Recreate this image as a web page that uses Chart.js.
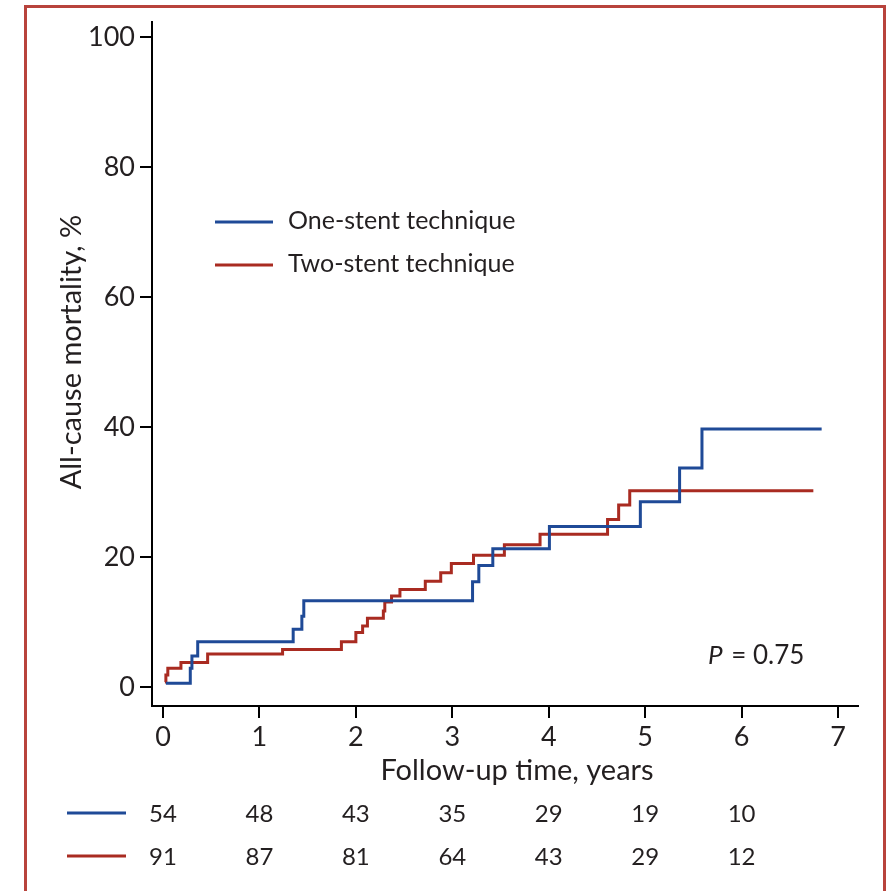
<!DOCTYPE html>
<html>
<head>
<meta charset="utf-8">
<script src="https://cdn.jsdelivr.net/npm/chart.js@4.4.1/dist/chart.umd.min.js"></script>
<style>
  body { margin: 0; background: #fff; }
  #wrap { width: 889px; height: 891px; }
</style>
</head>
<body>
<div id="wrap"><canvas id="chart_mortality" width="889" height="891"></canvas></div>
<script>
//データ
const seriesLabels = ['One-stent technique', 'Two-stent technique'];
const oneStentTime = [0.03, 0.283, 0.30, 0.36, 1.35, 1.44, 1.46, 3.21, 3.275, 3.42, 4.007, 4.95, 5.357, 5.589, 6.83];
const oneStentRate = [0.6, 2.9, 4.8, 7.0, 8.9, 10.9, 13.3, 16.2, 18.7, 21.3, 24.7, 28.5, 33.7, 39.7, 39.7];
const twoStentTime = [0.02, 0.03, 0.05, 0.186, 0.463, 1.24, 1.85, 2.0, 2.07, 2.12, 2.285, 2.30, 2.37, 2.457, 2.72, 2.88, 2.99, 3.22, 3.54, 3.91, 4.61, 4.725, 4.84, 6.744];
const twoStentRate = [0.8, 1.85, 2.9, 3.8, 5.1, 5.8, 7.0, 8.4, 9.4, 10.6, 11.7, 13.1, 14.0, 15.0, 16.3, 17.6, 19.0, 20.3, 21.9, 23.5, 25.8, 28.0, 30.2, 30.2];
const xTicks = [0, 1, 2, 3, 4, 5, 6, 7];
const yTicks = [0, 20, 40, 60, 80, 100];
const atRiskOne = [54, 48, 43, 35, 29, 19, 10];
const atRiskTwo = [91, 87, 81, 64, 43, 29, 12];
const pText = '= 0.75';

const blue = '#1f4a97';
const red = '#a92b21';
const ink = '#231f20';
const fontName = 'Lato, "Open Sans", sans-serif';

function toPoints(t, v) {
    return t.map(function (x, i) { return { x: x, y: v[i] }; });
}

//図の外枠・凡例・リスク表
const extras = {
    id: 'extras',
    afterDraw(chart) {
        const ctx = chart.ctx;
        const xs = chart.scales.x;
        ctx.save();

        //外枠
        ctx.strokeStyle = '#b8433c';
        ctx.lineWidth = 3;
        ctx.beginPath();
        ctx.moveTo(25.5, 891);
        ctx.lineTo(25.5, 6.5);
        ctx.lineTo(884.5, 6.5);
        ctx.lineTo(884.5, 891);
        ctx.stroke();

        ctx.fillStyle = ink;
        ctx.textBaseline = 'middle';

        //凡例
        const legendY = [222, 265];
        [blue, red].forEach(function (c, i) {
            ctx.strokeStyle = c;
            ctx.lineWidth = 3;
            ctx.beginPath();
            ctx.moveTo(215, legendY[i]);
            ctx.lineTo(273, legendY[i]);
            ctx.stroke();
            ctx.font = '25px ' + fontName;
            ctx.textAlign = 'left';
            ctx.fillText(seriesLabels[i], 288, legendY[i] - 1);
        });

        //P値
        ctx.font = 'italic 26px ' + fontName;
        ctx.textAlign = 'left';
        ctx.fillText('P', 708, 656);
        const pw = ctx.measureText('P').width;
        ctx.font = '26px ' + fontName;
        ctx.fillText(' ' + pText, 710 + pw, 656);

        //軸タイトル
        ctx.font = '29px ' + fontName;
        ctx.textAlign = 'center';
        ctx.fillText('Follow-up time, years', 517, 771);
        ctx.save();
        ctx.translate(72, 352);
        ctx.rotate(-Math.PI / 2);
        ctx.fillText('All-cause mortality, %', 0, 0);
        ctx.restore();

        //リスク表
        const rowY = [814, 857];
        [[blue, atRiskOne], [red, atRiskTwo]].forEach(function (row, i) {
            ctx.strokeStyle = row[0];
            ctx.lineWidth = 3;
            ctx.beginPath();
            ctx.moveTo(67, rowY[i] - 1);
            ctx.lineTo(126, rowY[i] - 1);
            ctx.stroke();
            ctx.font = '24px ' + fontName;
            ctx.textAlign = 'center';
            row[1].forEach(function (n, k) {
                ctx.fillText(String(n), xs.getPixelForValue(xTicks[k]), rowY[i]);
            });
        });

        ctx.restore();
    }
};

//グラフ作成
const chartArea = document.getElementById('chart_mortality');
const myChart = new Chart(chartArea, {
    type: 'line',
    data: {
        datasets: [{
            label: seriesLabels[0],
            data: toPoints(oneStentTime, oneStentRate),
            borderColor: blue,
            borderWidth: 3,
            stepped: 'before',
            pointRadius: 0,
            fill: false
        }, {
            label: seriesLabels[1],
            data: toPoints(twoStentTime, twoStentRate),
            borderColor: red,
            borderWidth: 3,
            stepped: 'before',
            pointRadius: 0,
            fill: false
        }]
    },
    options: {
        responsive: false,
        animation: false,
        layout: { padding: { left: 0, top: 22, right: 31, bottom: 0 } },
        plugins: {
            legend: { display: false },
            tooltip: { enabled: false }
        },
        scales: {
            x: {
                type: 'linear',
                min: -0.114,
                max: 7.207,
                afterFit: function (s) { s.height = 185; },
                afterBuildTicks: function (s) { s.ticks = xTicks.map(function (v) { return { value: v }; }); },
                border: { display: true, color: '#000', width: 2 },
                grid: { drawOnChartArea: false, drawTicks: true, tickLength: 12, color: '#000', lineWidth: 2 },
                ticks: { color: ink, font: { family: fontName, size: 27 }, padding: 3, maxRotation: 0 }
            },
            y: {
                type: 'linear',
                min: -2.9,
                max: 102.3,
                afterFit: function (s) { s.width = 152; },
                afterBuildTicks: function (s) { s.ticks = yTicks.map(function (v) { return { value: v }; }); },
                border: { display: true, color: '#000', width: 2 },
                grid: { drawOnChartArea: false, drawTicks: true, tickLength: 12, color: '#000', lineWidth: 2 },
                ticks: { color: ink, font: { family: fontName, size: 27 }, padding: 5 }
            }
        }
    },
    plugins: [extras]
});
</script>
</body>
</html>
